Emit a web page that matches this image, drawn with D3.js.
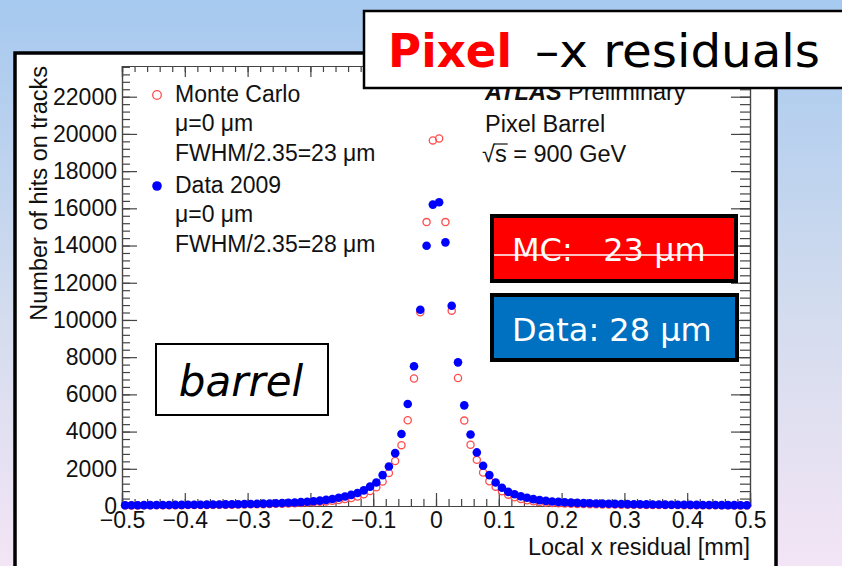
<!DOCTYPE html>
<html>
<head>
<meta charset="utf-8">
<script src="https://cdn.jsdelivr.net/npm/d3@7"></script>
<style>
  body { margin: 0; }
  svg { display: block; }
</style>
</head>
<body>
<div id="svg"></div>
<script>
// histogram: 100 bins of 0.01 mm from -0.5 to 0.5 mm
const binLow = -0.5
const binWidth = 0.01

// Data 2009 (blue filled circles)
const dataCounts = [
  40, 42, 44, 46, 48, 50, 52, 55, 58, 61,
  64, 67, 70, 74, 78, 82, 87, 92, 98, 104,
  110, 117, 125, 134, 145, 157, 172, 190, 210, 232,
  258, 290, 330, 380, 440, 510, 600, 700, 840, 1040,
  1260, 1660, 2120, 2840, 3870, 5480, 7510, 10550, 13990, 16200,
  16330, 14170, 10760, 7720, 5410, 3840, 2880, 2160, 1660, 1260,
  980, 760, 630, 520, 440, 370, 315, 275, 245, 220,
  200, 182, 167, 155, 145, 136, 128, 121, 114, 108,
  102, 97, 92, 87, 83, 79, 75, 71, 68, 65,
  62, 59, 56, 53, 51, 49, 47, 45, 43, 41
]

// Monte Carlo (red open circles)
const mcCounts = [
  30, 32, 33, 35, 37, 38, 40, 42, 44, 46,
  49, 51, 54, 57, 60, 64, 68, 72, 77, 82,
  88, 94, 100, 108, 116, 126, 137, 150, 165, 182,
  200, 222, 248, 280, 320, 370, 430, 510, 630, 800,
  1010, 1320, 1780, 2420, 3270, 4610, 6850, 10410, 15260, 19650,
  19750, 15260, 10500, 6880, 4590, 3290, 2480, 1800, 1330, 1040,
  790, 610, 470, 380, 310, 255, 215, 185, 162, 145,
  131, 120, 111, 103, 96, 90, 85, 80, 76, 72,
  68, 65, 62, 59, 56, 54, 52, 50, 48, 46,
  44, 42, 40, 38, 37, 35, 34, 33, 32, 31
]

const xTicks = [-0.5, -0.4, -0.3, -0.2, -0.1, 0, 0.1, 0.2, 0.3, 0.4, 0.5]
const yTicks = [0, 2000, 4000, 6000, 8000, 10000, 12000, 14000, 16000, 18000, 20000, 22000]

const legendLines = [
  'Monte Carlo', 'μ=0 μm', 'FWHM/2.35=23 μm',
  'Data 2009', 'μ=0 μm', 'FWHM/2.35=28 μm'
]

const width = 842
const height = 566
const rootFont = '"Liberation Sans", Arial, Helvetica, sans-serif'
const slideFont = '"DejaVu Sans", Verdana, sans-serif'

const svg = d3.select('#svg')
              .append('svg')
                .attr('width', width)
                .attr('height', height)

// slide background
const grad = svg.append('defs').append('linearGradient')
  .attr('id', 'bg')
  .attr('x1', 0).attr('y1', 0).attr('x2', 0).attr('y2', 1)
grad.append('stop').attr('offset', 0).attr('stop-color', '#a6c9ef')
grad.append('stop').attr('offset', 0.55).attr('stop-color', '#d3dcee')
grad.append('stop').attr('offset', 1).attr('stop-color', '#f3e5f5')

svg.append('rect')
  .attr('width', width).attr('height', height)
  .attr('fill', 'url(#bg)')

// white canvas of the plot
svg.append('rect')
  .attr('x', 15).attr('y', 53)
  .attr('width', 761).attr('height', 530)
  .attr('fill', '#fff')
  .attr('stroke', '#000')
  .attr('stroke-width', 3.5)

// frame
const frameLeft = 122, frameRight = 750, frameTop = 66, frameBottom = 506

const x = d3.scaleLinear().domain([-0.5, 0.5]).range([frameLeft, frameRight])
const y = d3.scaleLinear().domain([0, 23650]).range([frameBottom, frameTop])

const axisColor = '#444'

function styleAxis(g) {
  g.selectAll('path, line').attr('stroke', axisColor).attr('stroke-width', 1.2)
  g.selectAll('text')
    .attr('fill', '#111')
    .style('font-family', rootFont)
    .style('font-size', '23px')
}

const xMinor = d3.range(0, 51).map(i => -0.5 + i * 0.02)
const yMinor = d3.range(0, 60).map(i => i * 400)

const fmtX = d => d === 0 ? '0' : d3.format('.1f')(d)

// bottom axis
svg.append('g')
  .attr('transform', 'translate(0,' + frameBottom + ')')
  .call(d3.axisBottom(x).tickValues(xMinor).tickSize(-7).tickFormat(''))
  .call(styleAxis)
svg.append('g')
  .attr('transform', 'translate(0,' + frameBottom + ')')
  .call(d3.axisBottom(x).tickValues(xTicks).tickSize(-13).tickPadding(6).tickFormat(fmtX))
  .call(styleAxis)

// top axis
svg.append('g')
  .attr('transform', 'translate(0,' + frameTop + ')')
  .call(d3.axisTop(x).tickValues(xMinor).tickSize(-6).tickFormat(''))
  .call(styleAxis)
svg.append('g')
  .attr('transform', 'translate(0,' + frameTop + ')')
  .call(d3.axisTop(x).tickValues(xTicks).tickSize(-11).tickFormat(''))
  .call(styleAxis)

// left axis
svg.append('g')
  .attr('transform', 'translate(' + frameLeft + ',0)')
  .call(d3.axisLeft(y).tickValues(yMinor).tickSize(-8).tickFormat(''))
  .call(styleAxis)
svg.append('g')
  .attr('transform', 'translate(' + frameLeft + ',0)')
  .call(d3.axisLeft(y).tickValues(yTicks).tickSize(-15).tickPadding(5).tickFormat(d3.format('d')))
  .call(styleAxis)

// right axis
svg.append('g')
  .attr('transform', 'translate(' + frameRight + ',0)')
  .call(d3.axisLeft(y).tickValues(yMinor).tickSize(10).tickFormat(''))
  .call(styleAxis)
svg.append('g')
  .attr('transform', 'translate(' + frameRight + ',0)')
  .call(d3.axisLeft(y).tickValues(yTicks).tickSize(19).tickFormat(''))
  .call(styleAxis)

// axis titles
svg.append('text')
  .attr('transform', 'translate(47,' + frameTop + ') rotate(-90)')
  .attr('text-anchor', 'end')
  .style('font-family', rootFont)
  .style('font-size', '23.5px')
  .attr('fill', '#111')
  .text('Number of hits on tracks')

svg.append('text')
  .attr('x', frameRight).attr('y', 555)
  .attr('text-anchor', 'end')
  .style('font-family', rootFont)
  .style('font-size', '23.5px')
  .attr('fill', '#111')
  .text('Local x residual [mm]')

// markers
const bins = d3.range(dataCounts.length).map(i => binLow + binWidth * (i + 0.5))

const mcColor = '#ff4d4d'
const dataColor = '#0000ff'

svg.append('g')
  .selectAll('circle')
  .data(mcCounts)
  .join('circle')
    .attr('cx', (d, i) => x(bins[i]))
    .attr('cy', d => y(d))
    .attr('r', 3.6)
    .attr('fill', 'none')
    .attr('stroke', mcColor)
    .attr('stroke-width', 1.3)

svg.append('g')
  .selectAll('circle')
  .data(dataCounts)
  .join('circle')
    .attr('cx', (d, i) => x(bins[i]))
    .attr('cy', d => y(d))
    .attr('r', 4.3)
    .attr('fill', dataColor)

// legend
const legend = svg.append('g')
legend.selectAll('text')
  .data(legendLines)
  .join('text')
    .attr('x', 175)
    .attr('y', (d, i) => [102, 131, 161, 193, 222, 252][i])
    .style('font-family', rootFont)
    .style('font-size', '23px')
    .attr('fill', '#111')
    .text(d => d)

legend.append('circle')
  .attr('cx', 157).attr('cy', 95).attr('r', 4.3)
  .attr('fill', 'none').attr('stroke', mcColor).attr('stroke-width', 1.3)
legend.append('circle')
  .attr('cx', 157).attr('cy', 186).attr('r', 4.8)
  .attr('fill', dataColor)

// ATLAS label
const atlas = svg.append('text')
  .attr('x', 485).attr('y', 100)
  .style('font-family', rootFont)
  .style('font-size', '23.5px')
  .attr('fill', '#111')
atlas.append('tspan').style('font-weight', 'bold').style('font-style', 'italic').text('ATLAS')
atlas.append('tspan').text(' Preliminary')

svg.append('text')
  .attr('x', 485).attr('y', 132)
  .style('font-family', rootFont)
  .style('font-size', '23.5px')
  .attr('fill', '#111')
  .text('Pixel Barrel')

const sqrtText = svg.append('text')
  .attr('x', 482).attr('y', 162)
  .style('font-family', rootFont)
  .style('font-size', '23.5px')
  .attr('fill', '#111')
sqrtText.append('tspan').text('√')
sqrtText.append('tspan').attr('class', 'svar').text('s')
sqrtText.append('tspan').text(' = 900 GeV')

const sBox = sqrtText.select('.svar').node().getBBox()
svg.append('line')
  .attr('x1', sBox.x - 1).attr('x2', sBox.x + sBox.width + 1)
  .attr('y1', 144).attr('y2', 144)
  .attr('stroke', '#111').attr('stroke-width', 1.2)

// "barrel" box
svg.append('rect')
  .attr('x', 156).attr('y', 344)
  .attr('width', 172).attr('height', 71)
  .attr('fill', '#fff')
  .attr('stroke', '#000')
  .attr('stroke-width', 2)
svg.append('text')
  .attr('x', 241).attr('y', 396)
  .attr('text-anchor', 'middle')
  .style('font-family', slideFont)
  .style('font-style', 'italic')
  .style('font-size', '42px')
  .attr('fill', '#000')
  .text('barrel')

// resolution boxes
svg.append('rect')
  .attr('x', 492).attr('y', 216)
  .attr('width', 244).attr('height', 65)
  .attr('fill', '#ff0000')
  .attr('stroke', '#000')
  .attr('stroke-width', 4)
svg.append('line')
  .attr('x1', 494).attr('x2', 734)
  .attr('y1', 255).attr('y2', 255)
  .attr('stroke', '#fff').attr('stroke-width', 1.5)
svg.append('text')
  .attr('x', 512).attr('y', 261)
  .style('font-family', slideFont)
  .style('font-size', '32px')
  .style('white-space', 'pre')
  .attr('fill', '#fff')
  .text('MC:   23 μm')

svg.append('rect')
  .attr('x', 492).attr('y', 295)
  .attr('width', 245).attr('height', 65)
  .attr('fill', '#0070c0')
  .attr('stroke', '#000')
  .attr('stroke-width', 4)
svg.append('text')
  .attr('x', 512).attr('y', 341)
  .style('font-family', slideFont)
  .style('font-size', '32px')
  .attr('fill', '#fff')
  .text('Data: 28 μm')

// title box
svg.append('rect')
  .attr('x', 364).attr('y', 11)
  .attr('width', 500).attr('height', 77)
  .attr('fill', '#fff')
  .attr('stroke', '#000')
  .attr('stroke-width', 2.5)
svg.append('text')
  .attr('x', 388).attr('y', 67)
  .attr('textLength', 124)
  .attr('lengthAdjust', 'spacingAndGlyphs')
  .style('font-family', slideFont)
  .style('font-weight', 'bold')
  .style('font-size', '47px')
  .attr('fill', '#ff0000')
  .text('Pixel')
svg.append('text')
  .attr('x', 535).attr('y', 67)
  .attr('textLength', 285)
  .attr('lengthAdjust', 'spacingAndGlyphs')
  .style('font-family', slideFont)
  .style('font-size', '47px')
  .attr('fill', '#000')
  .text('–x residuals')
</script>
</body>
</html>
